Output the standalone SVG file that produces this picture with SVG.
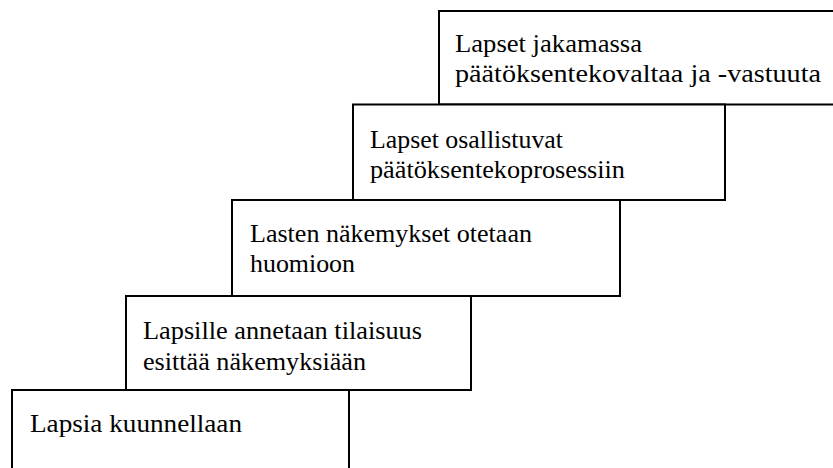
<svg xmlns="http://www.w3.org/2000/svg" width="833" height="468" viewBox="0 0 833 468">
<style>
.box{fill:#fff;stroke:#000;stroke-width:2}
.t{font-size:26px;fill:#000}
</style>
<rect x="0" y="0" width="833" height="468" fill="#fff"/>
<g font-family="'Liberation Serif', 'DejaVu Serif', serif">
<g id="node5"><rect class="box" x="439" y="11" width="420" height="93.5"/>
<text class="t" x="455" y="52" textLength="187" lengthAdjust="spacingAndGlyphs">Lapset jakamassa</text>
<text class="t" x="455" y="82" textLength="366" lengthAdjust="spacingAndGlyphs">päätöksentekovaltaa ja -vastuuta</text></g>
<g id="node4"><rect class="box" x="353" y="104.5" width="372" height="95.5"/>
<text class="t" x="370" y="148" textLength="193" lengthAdjust="spacingAndGlyphs">Lapset osallistuvat</text>
<text class="t" x="370" y="178" textLength="255" lengthAdjust="spacingAndGlyphs">päätöksentekoprosessiin</text></g>
<g id="node3"><rect class="box" x="232" y="200" width="388" height="96"/>
<text class="t" x="250" y="242" textLength="282" lengthAdjust="spacingAndGlyphs">Lasten näkemykset otetaan</text>
<text class="t" x="250" y="272" textLength="105" lengthAdjust="spacingAndGlyphs">huomioon</text></g>
<g id="node2"><rect class="box" x="126" y="296" width="345" height="94"/>
<text class="t" x="143" y="339" textLength="279" lengthAdjust="spacingAndGlyphs">Lapsille annetaan tilaisuus</text>
<text class="t" x="143" y="370" textLength="223" lengthAdjust="spacingAndGlyphs">esittää näkemyksiään</text></g>
<g id="node1"><rect class="box" x="12" y="390" width="337" height="100"/>
<text class="t" x="30" y="432" textLength="212" lengthAdjust="spacingAndGlyphs">Lapsia kuunnellaan</text></g>
</g>
<g id="connectors"></g>
</svg>
